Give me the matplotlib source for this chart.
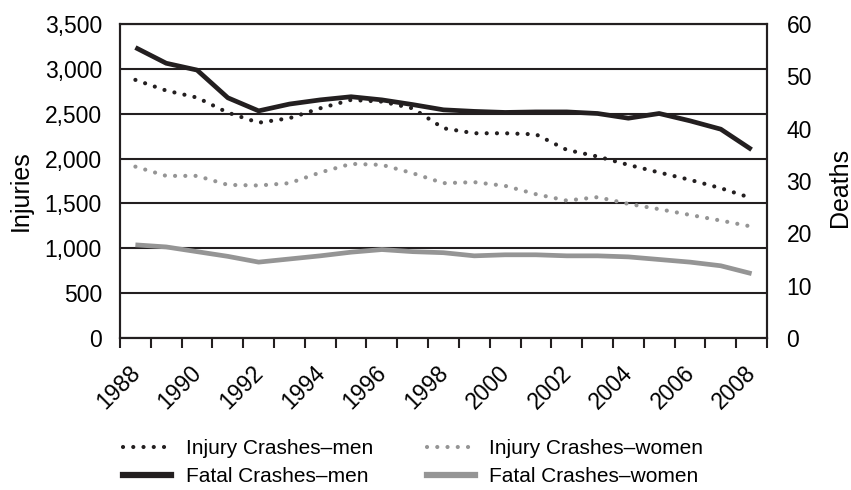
import matplotlib
matplotlib.use("Agg")
import matplotlib.pyplot as plt
import matplotlib.transforms as mtrans
import numpy as np
from matplotlib.lines import Line2D

years = list(range(1988, 2009))
injury_men = [2877, 2758, 2680, 2512, 2400, 2450, 2561, 2654, 2635, 2560, 2338, 2282,
              2282, 2270, 2097, 2023, 1930, 1845, 1763, 1670, 1559]
injury_women = [1910, 1807, 1807, 1707, 1700, 1726, 1845, 1941, 1930, 1837, 1726, 1737,
                1696, 1603, 1532, 1570, 1495, 1436, 1372, 1309, 1242]
fatal_men = [55.5, 52.5, 51.2, 45.9, 43.4, 44.7, 45.5, 46.1, 45.5, 44.6, 43.6, 43.3,
             43.1, 43.2, 43.2, 42.9, 42.0, 42.9, 41.5, 39.9, 36.0]
fatal_women = [17.8, 17.4, 16.5, 15.6, 14.5, 15.1, 15.7, 16.4, 16.9, 16.5, 16.3, 15.7,
               15.9, 15.9, 15.7, 15.7, 15.5, 15.0, 14.5, 13.8, 12.3]
labels = ["Injury Crashes\u2013men", "Injury Crashes\u2013women",
          "Fatal Crashes\u2013men", "Fatal Crashes\u2013women"]

plt.rcParams['font.family'] = ['Liberation Sans', 'DejaVu Sans']

fig = plt.figure(figsize=(8.51, 4.90), dpi=100)
ax = fig.add_axes([120/851, 1-338/490, 647/851, 314/490])
ax2 = ax.twinx()

x = np.arange(len(years))
dot = (0, (0.01, 2.45))
gray = '#959595'
black = '#231f20'
ax.plot(x, injury_men, color=black, lw=3.0, linestyle=dot, dash_capstyle='round', zorder=3)
ax.plot(x, injury_women, color=gray, lw=3.0, linestyle=dot, dash_capstyle='round', zorder=3)
ax2.plot(x, fatal_men, color=black, lw=3.4, solid_capstyle='butt', zorder=3)
ax2.plot(x, fatal_women, color=gray, lw=3.4, solid_capstyle='butt', zorder=3)

ax.set_xlim(-0.5, len(years) - 0.5)
ax.set_ylim(0, 3500)
ax2.set_ylim(0, 60)
ax.set_yticks(np.arange(0, 3501, 500))
ax.set_yticklabels([f"{v:,}" for v in range(0, 3501, 500)])
ax2.set_yticks(np.arange(0, 61, 10))
ax.yaxis.grid(True, color=black, lw=1.5)
ax.set_axisbelow(True)
ax.tick_params(axis='y', length=0, labelsize=16.5, pad=13)
ax2.tick_params(axis='y', length=0, labelsize=16.5, pad=14)

ax.set_xticks(x[::2])
ax.set_xticklabels([str(y) for y in years[::2]], rotation=45, ha='right', va='top',
                   rotation_mode='anchor')
ax.set_xticks(np.arange(-0.5, len(years), 1.0), minor=True)
ax.tick_params(axis='x', which='major', length=0, labelsize=16.5, pad=17)
ax.tick_params(axis='x', which='minor', length=7, width=1.5, direction='out', color=black)
offset = mtrans.ScaledTranslation(-7/100, 0, fig.dpi_scale_trans)
for lab in ax.get_xticklabels():
    lab.set_transform(lab.get_transform() + offset)

for a in (ax, ax2):
    for s in a.spines.values():
        s.set_linewidth(1.5)
        s.set_color(black)

ax.set_ylabel("Injuries", fontsize=18)
ax2.set_ylabel("Deaths", fontsize=18)
ax.yaxis.set_label_coords((33-120)/647, 0.47)
ax2.yaxis.set_label_coords((828-120)/647, 0.48)

lh = {
    labels[0]: Line2D([], [], color=black, lw=3.0, linestyle=dot, dash_capstyle='round'),
    labels[1]: Line2D([], [], color=gray, lw=3.0, linestyle=dot, dash_capstyle='round'),
    labels[2]: Line2D([], [], color=black, lw=4.5),
    labels[3]: Line2D([], [], color=gray, lw=4.5),
}
order = [labels[0], labels[2], labels[1], labels[3]]
fig.legend([lh[k] for k in order], order, ncol=2, loc='center left',
           bbox_to_anchor=(123/851, 1-462.5/490), borderpad=0, borderaxespad=0,
           frameon=False, fontsize=15, handlelength=2.3, columnspacing=2.6,
           handletextpad=0.7, labelspacing=0.45)

fig.savefig("out.png", dpi=100)
